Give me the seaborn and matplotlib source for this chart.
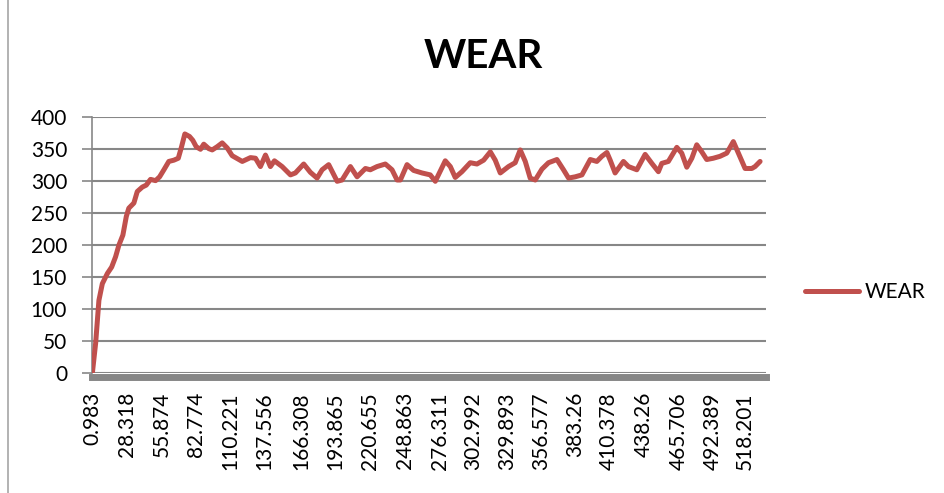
import numpy as np
import pandas as pd
import matplotlib
matplotlib.use("Agg")
import matplotlib.pyplot as plt
from matplotlib.lines import Line2D
import seaborn as sns

# Values (time, wear)
time_s = [0.983, 3.6, 6.2, 8.9, 12.9, 16.3, 19.4, 22.0, 25.2, 27.9, 29.9, 33.9,
          36.6, 40.6, 43.7, 47.1, 51.1, 54.3, 57.7, 61.6, 65.6, 69.1, 71.7, 74.3,
          78.0, 80.6, 83.3, 86.7, 89.3, 93.3, 96.0, 99.9, 103.9, 107.9, 111.8,
          119.8, 126.3, 130.3, 134.2, 138.2, 142.1, 145.3, 151.4, 158.0, 161.9,
          168.5, 173.8, 179.1, 183.1, 188.3, 195.0, 198.9, 205.5, 210.8, 217.4,
          221.3, 226.6, 233.2, 238.5, 242.5, 245.1, 250.4, 255.6, 262.3, 268.8,
          272.8, 280.7, 284.7, 288.6, 293.9, 300.5, 305.8, 311.1, 316.4, 320.3,
          324.3, 330.8, 336.1, 340.1, 344.1, 348.0, 352.0, 357.3, 362.5, 369.2,
          374.4, 378.4, 383.7, 389.0, 395.6, 400.8, 404.8, 408.8, 411.4, 415.3,
          421.9, 425.9, 432.5, 439.1, 444.4, 449.6, 452.3, 457.5, 464.2, 468.1,
          472.1, 476.1, 480.0, 484.0, 487.9, 493.1, 498.4, 503.8, 509.0, 513.0,
          518.3, 523.6, 526.2, 530.2]
wear = [0, 47, 114, 140, 156, 166, 182, 200, 216, 245, 258, 266,
        284, 291, 294, 303, 301, 307, 318, 331, 333, 336, 354, 374,
        370, 364, 354, 350, 358, 351, 349, 354, 360, 352, 340,
        331, 337, 336, 323, 341, 323, 332, 323, 310, 313,
        327, 314, 305, 318, 326, 300, 302, 323, 307, 320,
        318, 323, 327, 318, 302, 302, 326, 317, 313, 310,
        300, 332, 323, 306, 315, 329, 327, 333, 346, 333,
        313, 323, 329, 349, 331, 305, 302, 319, 329, 334,
        318, 305, 307, 310, 334, 331, 339, 345, 333, 313,
        331, 323, 318, 342, 328, 315, 328, 331, 353, 344,
        322, 336, 357, 346, 334, 336, 339, 344, 362, 344,
        320, 320, 323, 331]

tick_labels = ["0.983", "28.318", "55.874", "82.774", "110.221", "137.556",
               "166.308", "193.865", "220.655", "248.863", "276.311", "302.992",
               "329.893", "356.577", "383.26", "410.378", "438.26", "465.706",
               "492.389", "518.201"]

df = pd.DataFrame({"time": time_s, "WEAR": wear})

sns.set_style("white")
plt.rcParams['font.family'] = ['Lato', 'DejaVu Sans']
plt.rcParams['text.color'] = 'black'

red = "#C0504D"
grey = "#878787"

fig = plt.figure(figsize=(9.45, 4.93), dpi=100)
ax = fig.add_axes([0.0974, 0.2428, 0.7132, 0.5193])

sns.lineplot(data=df, x="time", y="WEAR", color=red, linewidth=3.6,
             solid_capstyle="round", solid_joinstyle="round", ax=ax,
             legend=False, zorder=3)

ax.set_xlim(0.75, 534.9)
ax.set_ylim(0, 400)
ax.set_yticks(range(0, 401, 50))
ax.set_xticks([float(t) for t in tick_labels])
ax.set_xticklabels(tick_labels)
ax.grid(axis="y", color=grey, linewidth=1.5)
ax.set_xlabel("")
ax.set_ylabel("")

for s in ["top", "right"]:
    ax.spines[s].set_visible(False)
ax.spines["left"].set_color(grey)
ax.spines["left"].set_linewidth(1.2)
ax.spines["bottom"].set_color(grey)
ax.spines["bottom"].set_linewidth(5)
ax.spines["bottom"].set_position(("outward", 2.5))

ax.tick_params(axis="y", length=7, width=1.2, color=grey, pad=11,
               labelsize=15, left=True, labelcolor="black")
ax.tick_params(axis="x", length=0, pad=11, labelsize=15, labelrotation=90,
               labelcolor="black")

fig.text(483 / 945, 1 - 57 / 493, "WEAR", ha="center", va="center",
         fontsize=29, fontweight="bold", color="black")

handle = Line2D([], [], color=red, linewidth=3.6, solid_capstyle="round")
fig.legend([handle], ["WEAR"], loc="center left",
           bbox_to_anchor=(805 / 945, 1 - 292 / 493), frameon=False,
           borderpad=0, borderaxespad=0, handlelength=2.6, handletextpad=0.25,
           fontsize=15, labelcolor="black")

fig.add_artist(Line2D([8 / 945, 8 / 945], [0, 1], transform=fig.transFigure,
                      color="#a6a6a6", linewidth=1.2))

plt.savefig("out.png", dpi=100)
